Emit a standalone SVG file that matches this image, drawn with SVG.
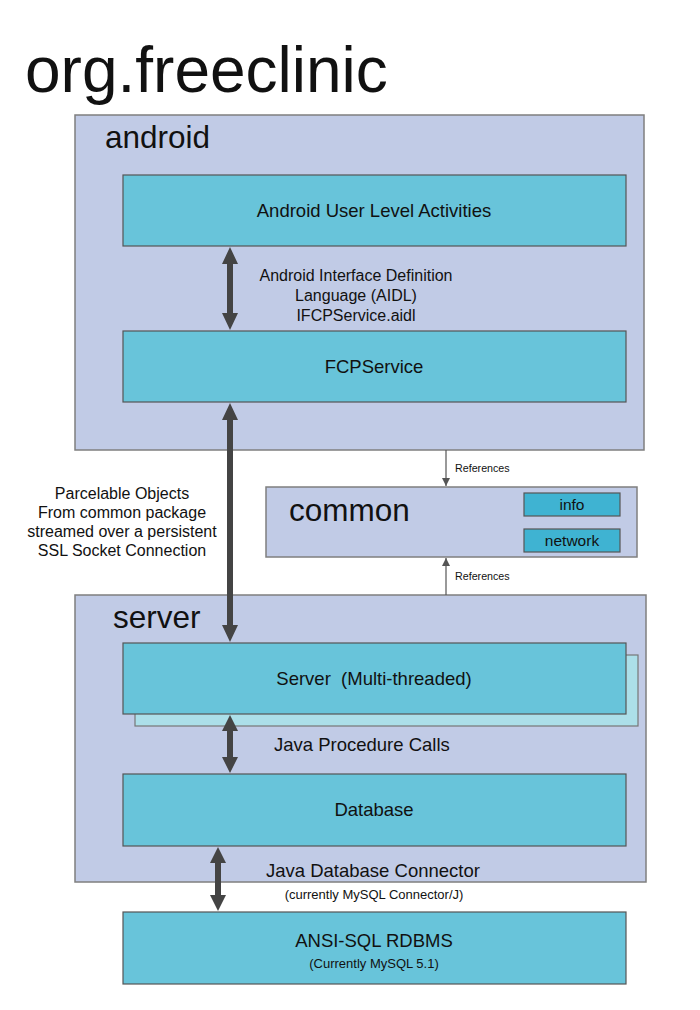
<svg xmlns="http://www.w3.org/2000/svg" width="700" height="1010" viewBox="0 0 700 1010">
<defs>
<style>
.pkg{fill:#c1cbe6;stroke:#7f7f7f;stroke-width:1.5}
.box{fill:#68c4da;stroke:#555;stroke-width:1.2}
.small{fill:#3fb3d2;stroke:#555;stroke-width:1.2}
.t{font-family:"Liberation Sans",Arial,sans-serif;fill:#111}
.thick{stroke:#444;stroke-width:6;fill:none}
.thin{stroke:#555;stroke-width:1.2;fill:none}
</style>
<marker id="sh" viewBox="0 0 10 10" refX="10" refY="5" markerWidth="8" markerHeight="8" markerUnits="userSpaceOnUse" orient="auto">
<path d="M0,0 L10,5 L0,10 z" fill="#555"/>
</marker>
</defs>
<rect width="700" height="1010" fill="#fff"/>
<text class="t" x="25" y="92" font-size="64" fill="#000">org.freeclinic</text>

<g id="android">
<rect class="pkg" x="75" y="115" width="569" height="335"/>
<text class="t" x="105" y="148" font-size="31.5">android</text>
</g>
<g id="activities">
<rect class="box" x="123" y="175" width="503" height="71"/>
<text class="t" x="374" y="217" font-size="18.5" text-anchor="middle">Android User Level Activities</text>
</g>
<g id="fcpservice">
<rect class="box" x="123" y="331" width="503" height="71"/>
<text class="t" x="374" y="373" font-size="18.5" text-anchor="middle">FCPService</text>
</g>

<g id="common">
<rect class="pkg" x="266" y="487" width="371" height="70"/>
<text class="t" x="289" y="521" font-size="31.5">common</text>
</g>
<g id="info">
<rect class="small" x="524" y="493" width="96" height="23"/>
<text class="t" x="572" y="510" font-size="15.5" text-anchor="middle">info</text>
</g>
<g id="network">
<rect class="small" x="524" y="529" width="96" height="23"/>
<text class="t" x="572" y="546" font-size="15.5" text-anchor="middle">network</text>
</g>

<g id="server-pkg">
<rect class="pkg" x="75" y="595" width="571" height="287"/>
<text class="t" x="113" y="628" font-size="31.5">server</text>
</g>
<g id="server">
<rect x="135" y="655" width="503" height="71" fill="#acdfe9" stroke="#777" stroke-width="1.2"/>
<rect class="box" x="123" y="643" width="503" height="71"/>
<text class="t" x="374" y="685" font-size="18.5" text-anchor="middle" xml:space="preserve">Server  (Multi-threaded)</text>
</g>
<g id="database">
<rect class="box" x="123" y="774" width="503" height="72"/>
<text class="t" x="374" y="816" font-size="18.5" text-anchor="middle">Database</text>
</g>
<g id="rdbms">
<rect class="box" x="123" y="912" width="503" height="72"/>
<text class="t" x="374" y="947" font-size="18.5" text-anchor="middle">ANSI-SQL RDBMS</text>
<text class="t" x="374" y="968" font-size="13" text-anchor="middle">(Currently MySQL 5.1)</text>
</g>

<g id="connectors">
<line class="thick" x1="230" y1="264" x2="230" y2="313"/>
<path d="M230,247 L222,264 L238,264 z M230,330 L222,313 L238,313 z" fill="#444"/>
<line class="thick" x1="230" y1="420" x2="230" y2="625"/>
<path d="M230,403 L222,420 L238,420 z M230,642 L222,625 L238,625 z" fill="#444"/>
<line class="thick" x1="230" y1="731" x2="230" y2="757"/>
<path d="M230,715 L222,731 L238,731 z M230,773 L222,757 L238,757 z" fill="#444"/>
<line class="thick" x1="218" y1="863" x2="218" y2="895"/>
<path d="M218,847 L210,863 L226,863 z M218,911 L210,895 L226,895 z" fill="#444"/>
<line class="thin" x1="446" y1="450" x2="446" y2="486" marker-end="url(#sh)"/>
<line class="thin" x1="446" y1="595" x2="446" y2="558" marker-end="url(#sh)"/>
</g>

<g id="labels">
<text class="t" x="356" y="281" font-size="16" text-anchor="middle">Android Interface Definition</text>
<text class="t" x="356" y="301" font-size="16" text-anchor="middle">Language (AIDL)</text>
<text class="t" x="356" y="321" font-size="16" text-anchor="middle">IFCPService.aidl</text>
<text class="t" x="122" y="499" font-size="16" text-anchor="middle">Parcelable Objects</text>
<text class="t" x="122" y="518" font-size="16" text-anchor="middle">From common package</text>
<text class="t" x="122" y="537" font-size="16" text-anchor="middle">streamed over a persistent</text>
<text class="t" x="122" y="556" font-size="16" text-anchor="middle">SSL Socket Connection</text>
<text class="t" x="455" y="472" font-size="10.7">References</text>
<text class="t" x="455" y="580" font-size="10.7">References</text>
<text class="t" x="274" y="751" font-size="18.5">Java Procedure Calls</text>
<text class="t" x="266" y="877" font-size="18.5">Java Database Connector</text>
<text class="t" x="374" y="899" font-size="13" text-anchor="middle">(currently MySQL Connector/J)</text>
</g>
</svg>
